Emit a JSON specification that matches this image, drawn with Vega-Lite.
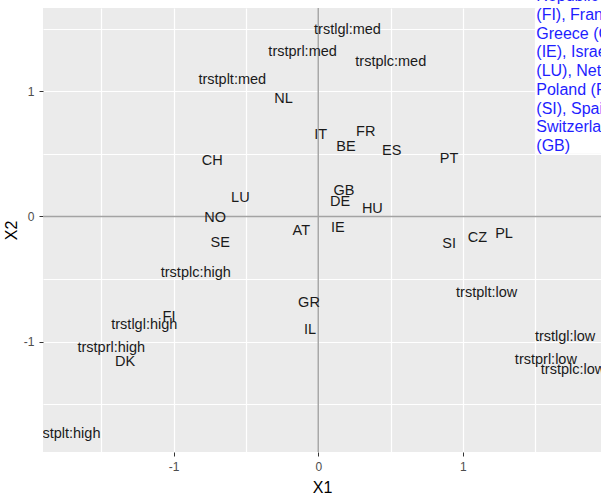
{
  "$schema": "https://vega.github.io/schema/vega-lite/v6.json",
  "width": 558,
  "height": 444,
  "autosize": {"type": "none"},
  "padding": {"left": 43, "top": 8, "right": 0, "bottom": 42},
  "background": "white",
  "config": {
    "view": {"fill": "#EBEBEB", "stroke": null},
    "axis": {
      "domain": false,
      "grid": true,
      "gridColor": "white",
      "gridWidth": 1.2,
      "tickColor": "#333333",
      "tickSize": 4,
      "labelFont": "Liberation Sans",
      "labelFontSize": 12,
      "labelColor": "#4D4D4D",
      "titleFont": "Liberation Sans",
      "titleFontSize": 16,
      "titleFontWeight": "normal",
      "titleColor": "black"
    }
  },
  "datasets": {
    "scores": [
      {"name": "trstlgl:med", "X1": 0.202, "X2": 1.490},
      {"name": "trstprl:med", "X1": -0.108, "X2": 1.314},
      {"name": "trstplc:med", "X1": 0.501, "X2": 1.237},
      {"name": "trstplt:med", "X1": -0.594, "X2": 1.090},
      {"name": "NL", "X1": -0.240, "X2": 0.941},
      {"name": "IT", "X1": 0.017, "X2": 0.651},
      {"name": "FR", "X1": 0.328, "X2": 0.672},
      {"name": "BE", "X1": 0.192, "X2": 0.557},
      {"name": "ES", "X1": 0.508, "X2": 0.523},
      {"name": "PT", "X1": 0.904, "X2": 0.459},
      {"name": "CH", "X1": -0.732, "X2": 0.443},
      {"name": "LU", "X1": -0.538, "X2": 0.149},
      {"name": "NO", "X1": -0.713, "X2": -0.015},
      {"name": "GB", "X1": 0.178, "X2": 0.203},
      {"name": "DE", "X1": 0.151, "X2": 0.118},
      {"name": "HU", "X1": 0.374, "X2": 0.057},
      {"name": "IE", "X1": 0.135, "X2": -0.090},
      {"name": "AT", "X1": -0.117, "X2": -0.117},
      {"name": "SE", "X1": -0.677, "X2": -0.215},
      {"name": "SI", "X1": 0.904, "X2": -0.223},
      {"name": "CZ", "X1": 1.100, "X2": -0.175},
      {"name": "PL", "X1": 1.284, "X2": -0.143},
      {"name": "trstplc:high", "X1": -0.846, "X2": -0.455},
      {"name": "GR", "X1": -0.064, "X2": -0.695},
      {"name": "IL", "X1": -0.057, "X2": -0.908},
      {"name": "trstplt:low", "X1": 1.164, "X2": -0.610},
      {"name": "FI", "X1": -1.031, "X2": -0.802},
      {"name": "trstlgl:high", "X1": -1.202, "X2": -0.868},
      {"name": "trstprl:high", "X1": -1.430, "X2": -1.050},
      {"name": "DK", "X1": -1.335, "X2": -1.166},
      {"name": "trstplt:high", "X1": -1.736, "X2": -1.742},
      {"name": "trstlgl:low", "X1": 1.706, "X2": -0.966},
      {"name": "trstprl:low", "X1": 1.573, "X2": -1.148},
      {"name": "trstplc:low", "X1": 1.761, "X2": -1.228}
    ]
  },
  "layer": [
    {
      "data": {"values": [{}]},
      "mark": {"type": "rule", "color": "#A3A3A3", "strokeWidth": 1.4},
      "encoding": {
        "x": {
          "datum": 0,
          "type": "quantitative",
          "scale": {"domain": [-1.902, 1.954], "nice": false, "zero": false},
          "axis": {
            "title": "X1",
            "values": [-1.5, -1, -0.5, 0, 0.5, 1, 1.5],
            "labelExpr": "datum.value % 1 == 0 ? '' + datum.value : ''",
            "tickOpacity": {"condition": {"test": "datum.value % 1 != 0", "value": 0}, "value": 1},
            "labelPadding": 5,
            "titlePadding": 7
          }
        }
      }
    },
    {
      "data": {"values": [{}]},
      "mark": {"type": "rule", "color": "#A3A3A3", "strokeWidth": 1.4},
      "encoding": {
        "y": {
          "datum": 0,
          "type": "quantitative",
          "scale": {"domain": [-1.883, 1.666], "nice": false, "zero": false},
          "axis": {
            "title": "X2",
            "values": [-1.5, -1, -0.5, 0, 0.5, 1, 1.5],
            "labelExpr": "datum.value % 1 == 0 ? '' + datum.value : ''",
            "tickOpacity": {"condition": {"test": "datum.value % 1 != 0", "value": 0}, "value": 1},
            "labelPadding": 5,
            "titlePadding": 4
          }
        }
      }
    },
    {
      "data": {"name": "scores"},
      "mark": {
        "type": "text",
        "font": "Liberation Sans",
        "fontSize": 14.5,
        "color": "#1A1A1A",
        "align": "center",
        "baseline": "middle",
        "clip": true
      },
      "encoding": {
        "x": {"field": "X1", "type": "quantitative"},
        "y": {"field": "X2", "type": "quantitative"},
        "text": {"field": "name"}
      }
    },
    {
      "data": {"values": [{}]},
      "mark": {"type": "rect", "color": "white", "opacity": 1},
      "encoding": {
        "x": {"datum": 1.5, "type": "quantitative"},
        "x2": {"datum": 1.954},
        "y": {"datum": 0.5, "type": "quantitative"},
        "y2": {"datum": 1.73}
      }
    },
    {
      "data": {"values": [{}]},
      "mark": {
        "type": "text",
        "font": "Liberation Sans",
        "fontSize": 16,
        "lineHeight": 18.7,
        "color": "#1E1EFF",
        "align": "left",
        "baseline": "bottom",
        "dx": 1,
        "text": [
          "Republic (CZ), Denmark (DK), Finland",
          "(FI), France (FR), Germany (DE),",
          "Greece (GR), Hungary (HU), Ireland",
          "(IE), Israel (IL), Italy (IT), Luxembourg",
          "(LU), Netherlands (NL), Norway (NO),",
          "Poland (PL), Portugal (PT), Slovenia",
          "(SI), Spain (ES), Sweden (SE),",
          "Switzerland (CH), United Kingdom",
          "(GB)"
        ]
      },
      "encoding": {
        "x": {"datum": 1.5, "type": "quantitative"},
        "y": {"datum": 1.695, "type": "quantitative"}
      }
    }
  ]
}
